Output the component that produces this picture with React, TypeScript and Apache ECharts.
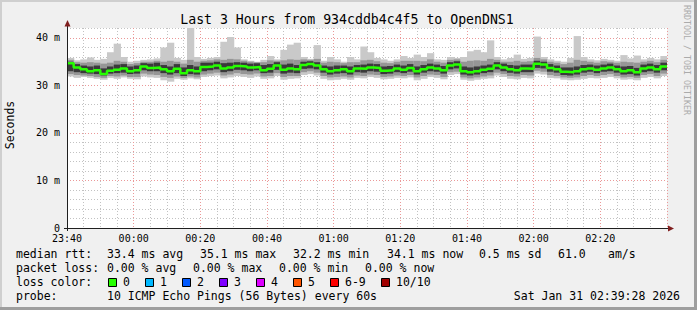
import React, { useEffect, useRef } from 'react';
import * as echarts from 'echarts';

const W = 697;
const H = 310;
const STEP_MIN = 2; // minutes per consolidated slot
const SPAN_MIN = 180;

const xTickLabels = ['23:40', '00:00', '00:20', '00:40', '01:00', '01:20', '01:40', '02:00', '02:20'];
const yTickLabels = ['0', '10 m', '20 m', '30 m', '40 m'];

// median rtt (ms) per 2-minute slot
const median = [
  34.7, 33.8, 33.4, 33.0, 33.2, 32.4, 33.1, 33.3, 33.6, 33.0,
  33.2, 34.0, 33.7, 33.8, 33.4, 33.0, 33.5, 32.6, 33.2, 33.0,
  33.9, 34.0, 34.2, 33.6, 33.8, 34.1, 34.0, 33.8, 33.9, 33.2,
  33.5, 34.2, 33.3, 33.6, 33.4, 34.3, 34.5, 34.2, 33.4, 33.0,
  33.2, 33.4, 33.0, 33.6, 33.5, 33.8, 33.7, 33.1, 33.2, 33.6,
  33.3, 33.7, 33.0, 33.4, 33.8, 33.6, 33.2, 34.2, 34.4, 33.0,
  32.8, 33.0, 33.3, 33.5, 34.2, 33.8, 33.4, 33.2, 33.6, 33.5,
  34.6, 34.4, 33.7, 33.4, 32.9, 32.8, 33.0, 33.4, 33.6, 33.3,
  33.6, 33.8, 33.4, 33.0, 33.2, 32.8, 33.6, 33.8, 33.4, 34.0,
];
const minV = [
  31.9, 31.6, 31.8, 31.6, 31.4, 31.2, 31.6, 31.4, 31.7, 31.4,
  31.3, 31.9, 31.7, 31.6, 31.1, 30.8, 31.4, 31.2, 31.5, 31.3,
  31.8, 32.0, 32.1, 31.5, 31.7, 32.0, 31.8, 31.6, 31.9, 31.4,
  31.5, 32.0, 31.2, 31.4, 31.5, 32.2, 32.4, 32.1, 31.4, 31.1,
  31.2, 31.4, 31.2, 31.6, 31.5, 31.8, 31.6, 31.3, 31.4, 31.6,
  31.5, 31.7, 31.1, 31.4, 31.8, 31.6, 31.3, 32.2, 32.4, 31.2,
  31.0, 31.2, 31.4, 31.5, 32.1, 31.8, 31.4, 31.3, 31.6, 31.5,
  32.5, 32.3, 31.6, 31.5, 31.2, 31.1, 31.2, 31.4, 31.6, 31.5,
  31.6, 31.8, 31.5, 31.2, 31.3, 31.1, 31.6, 31.8, 31.5, 32.0,
];
const lo2 = [
  32.4, 32.2, 32.1, 32.0, 31.8, 31.6, 32.0, 31.9, 32.1, 31.8,
  31.8, 32.5, 32.3, 32.2, 31.8, 31.6, 31.9, 31.6, 31.9, 31.7,
  32.3, 32.5, 32.7, 32.1, 32.3, 32.6, 32.4, 32.3, 32.5, 31.9,
  32.0, 32.6, 31.8, 32.0, 32.0, 32.8, 33.0, 32.7, 32.0, 31.7,
  31.8, 31.9, 31.7, 32.1, 32.0, 32.3, 32.2, 31.8, 31.9, 32.1,
  32.0, 32.2, 31.7, 32.0, 32.3, 32.2, 31.8, 32.8, 32.9, 31.7,
  31.5, 31.7, 31.9, 32.1, 32.7, 32.4, 32.0, 31.9, 32.2, 32.1,
  33.1, 32.9, 32.2, 32.0, 31.7, 31.6, 31.7, 32.0, 32.2, 32.0,
  32.2, 32.4, 32.0, 31.7, 31.8, 31.6, 32.2, 32.4, 32.0, 32.5,
];
const lo = [
  33.0, 32.8, 32.6, 32.5, 32.4, 32.1, 32.5, 32.6, 32.7, 32.4,
  32.5, 33.2, 33.0, 33.0, 32.6, 32.3, 32.6, 32.0, 32.4, 32.3,
  33.0, 33.2, 33.4, 32.8, 33.0, 33.3, 33.2, 33.0, 33.2, 32.6,
  32.7, 33.3, 32.5, 32.7, 32.6, 33.5, 33.6, 33.4, 32.7, 32.3,
  32.5, 32.6, 32.3, 32.8, 32.7, 33.0, 32.9, 32.4, 32.5, 32.8,
  32.6, 32.9, 32.3, 32.7, 33.0, 32.9, 32.5, 33.4, 33.6, 32.3,
  32.1, 32.3, 32.6, 32.8, 33.4, 33.0, 32.7, 32.5, 32.8, 32.8,
  33.7, 33.6, 32.9, 32.7, 32.2, 32.1, 32.3, 32.7, 32.9, 32.6,
  32.9, 33.0, 32.7, 32.3, 32.4, 32.1, 32.8, 33.0, 32.7, 33.2,
];
const hi = [
  35.0, 34.5, 34.2, 34.0, 34.2, 33.6, 34.0, 34.4, 34.5, 34.0,
  34.2, 34.7, 34.6, 34.8, 34.3, 34.0, 34.5, 33.8, 34.3, 34.0,
  34.8, 34.8, 35.0, 34.7, 34.8, 34.9, 34.8, 34.6, 34.7, 34.3,
  34.5, 34.9, 34.4, 34.6, 34.3, 35.0, 35.1, 34.9, 34.2, 34.0,
  34.2, 34.2, 34.0, 34.3, 34.4, 34.6, 34.5, 34.0, 34.1, 34.4,
  34.2, 34.5, 34.0, 34.3, 34.6, 34.4, 34.1, 34.9, 35.1, 34.0,
  33.8, 34.0, 34.2, 34.4, 34.9, 34.6, 34.3, 34.2, 34.4, 34.4,
  35.2, 35.0, 34.5, 34.2, 33.8, 33.8, 34.0, 34.3, 34.4, 34.2,
  34.4, 34.6, 34.2, 34.0, 34.1, 33.7, 34.4, 34.6, 34.3, 34.8,
];
const hi2 = [
  35.4, 34.9, 34.8, 34.9, 34.8, 34.6, 34.8, 35.2, 35.0, 34.5,
  34.7, 35.0, 35.0, 35.2, 35.0, 35.2, 35.0, 34.6, 35.4, 35.0,
  35.2, 35.3, 35.5, 35.4, 35.6, 35.5, 35.2, 35.0, 34.9, 34.9,
  35.3, 35.2, 35.3, 35.5, 35.4, 35.5, 35.4, 35.6, 34.8, 35.0,
  34.9, 34.7, 34.9, 34.9, 35.3, 35.4, 35.1, 34.8, 34.7, 35.0,
  35.2, 35.2, 35.2, 35.1, 35.5, 35.0, 34.8, 35.4, 35.5, 35.0,
  35.2, 35.3, 35.2, 35.6, 35.4, 35.0, 35.0, 35.2, 35.0, 35.1,
  35.8, 35.5, 35.0, 34.8, 34.5, 34.8, 35.4, 35.2, 35.0, 34.8,
  35.1, 35.0, 34.8, 35.0, 34.9, 34.8, 35.0, 35.2, 34.9, 35.4,
];
const maxV = [
  35.8, 35.3, 35.5, 35.9, 35.4, 35.6, 37.0, 38.8, 36.0, 35.0,
  35.2, 35.4, 35.5, 35.7, 38.0, 39.0, 35.8, 35.4, 42.2, 36.0,
  35.6, 35.8, 36.0, 39.2, 40.2, 38.0, 35.5, 35.2, 35.0, 35.4,
  36.2, 35.5, 37.5, 38.6, 39.0, 36.0, 35.6, 38.5, 35.2, 36.0,
  35.5, 35.0, 36.0, 35.5, 38.2, 37.0, 35.8, 35.5, 35.2, 35.5,
  36.2, 35.8, 36.5, 36.0, 36.8, 35.5, 35.4, 36.0, 35.8, 36.0,
  37.2, 37.5, 37.0, 39.5, 36.0, 35.5, 35.8, 36.5, 35.6, 35.8,
  40.3, 36.0, 35.5, 35.2, 35.0, 35.8, 40.4, 36.0, 35.5, 35.3,
  35.6, 35.4, 35.2, 36.4, 35.7, 36.3, 35.5, 35.8, 35.5, 36.2,
];

const lossLabels = ['0', '1', '2', '3', '4', '5', '6-9', '10/10'];
const lossColors = ['#26ff00', '#00b8ff', '#0059ff', '#7e00ff', '#dd00ff', '#ff5500', '#ff0000', '#a10000'];

const MONO = '"DejaVu Sans Mono", monospace';
const RED_GRID = '#eb9898';
const GRAY_GRID = '#c2c2c2';

export default function App() {
  const ref = useRef<HTMLDivElement>(null);

  useEffect(() => {
    if (!ref.current) return;
    const chart = echarts.init(ref.current, null, { renderer: 'svg', width: W, height: H });

    const slotStart = median.map((_, i) => i * STEP_MIN);
    const smokeData = slotStart.map((t, i) => [t, minV[i], lo2[i], lo[i], hi[i], hi2[i], maxV[i]]);
    const medianData = slotStart.map((t, i) => [t, median[i]]);
    medianData.push([SPAN_MIN, median[median.length - 1]]);

    const txt = (text: string, x: number, y: number, extra: any = {}) => ({
      type: 'text',
      x,
      y,
      z: 100,
      style: {
        text,
        font: `11.5px ${MONO}`,
        fill: '#000',
        align: 'left',
        verticalAlign: 'middle',
        ...extra,
      },
    });

    const lossBoxX = [108, 145, 182, 219, 256, 293, 330, 381];
    const lossTextX = [123, 160, 197, 234, 271, 308, 345, 396];

    const graphics: any[] = [
      // frame shading
      { type: 'rect', z: -10, shape: { x: 0, y: 0, width: W, height: 2 }, style: { fill: '#cfcfcf' } },
      { type: 'rect', z: -10, shape: { x: 0, y: 0, width: 2, height: H }, style: { fill: '#cfcfcf' } },
      { type: 'rect', z: -10, shape: { x: 0, y: H - 3, width: W, height: 3 }, style: { fill: '#9e9e9e' } },
      { type: 'rect', z: -10, shape: { x: W - 3, y: 0, width: 3, height: H }, style: { fill: '#9e9e9e' } },
      // axes lines + arrows
      { type: 'line', z: 100, shape: { x1: 67.5, y1: 231, x2: 67.5, y2: 25 }, style: { stroke: '#1f1f1f', lineWidth: 1 } },
      { type: 'line', z: 100, shape: { x1: 64, y1: 228.5, x2: 669, y2: 228.5 }, style: { stroke: '#1f1f1f', lineWidth: 1 } },
      { type: 'polygon', z: 101, shape: { points: [[64.5, 26.5], [70.5, 26.5], [67.5, 20]] }, style: { fill: '#801f1f' } },
      { type: 'polygon', z: 101, shape: { points: [[668, 225.5], [668, 231.5], [674, 228.5]] }, style: { fill: '#801f1f' } },
      // title
      {
        type: 'text', x: 347, y: 19, z: 100,
        style: { text: 'Last 3 Hours from 934cddb4c4f5 to OpenDNS1', font: `13.2px ${MONO}`, fill: '#000', align: 'center', verticalAlign: 'middle' },
      },
      // vertical unit label
      {
        type: 'text', x: 10, y: 125, rotation: Math.PI / 2, z: 100,
        style: { text: 'Seconds', font: `11.5px ${MONO}`, fill: '#000', align: 'center', verticalAlign: 'middle' },
      },
      // watermark
      {
        type: 'text', x: 687, y: 60, rotation: -Math.PI / 2, z: 100,
        style: { text: 'RRDTOOL / TOBI OETIKER', font: `8.3px ${MONO}`, fill: '#ababab', align: 'center', verticalAlign: 'middle' },
      },
      // legend rows
      txt('median rtt:', 16, 254),
      txt('33.4 ms avg', 107, 254),
      txt('35.1 ms max', 200, 254),
      txt('32.2 ms min', 293, 254),
      txt('34.1 ms now', 387, 254),
      txt('0.5 ms sd', 479, 254),
      txt('61.0', 558, 254),
      txt('am/s', 608, 254),
      txt('packet loss:', 16, 268),
      txt('0.00 % avg', 107, 268),
      txt('0.00 % max', 193, 268),
      txt('0.00 % min', 279, 268),
      txt('0.00 % now', 365, 268),
      txt('loss color:', 16, 282),
      txt('probe:', 16, 296),
      txt('10 ICMP Echo Pings (56 Bytes) every 60s', 107, 296),
      txt('Sat Jan 31 02:39:28 2026', 680, 296, { align: 'right' }),
    ];
    lossLabels.forEach((lab, i) => {
      graphics.push({
        type: 'rect', z: 100,
        shape: { x: lossBoxX[i] + 0.5, y: 278.5, width: 8, height: 8 },
        style: { fill: lossColors[i], stroke: '#000', lineWidth: 1 },
      });
      graphics.push(txt(lab, lossTextX[i], 282));
    });

    const option: any = {
      animation: false,
      backgroundColor: '#f0f0f0',
      grid: {
        left: 67, top: 28, width: 600, height: 200,
        show: true, backgroundColor: '#ffffff', borderWidth: 0,
      },
      xAxis: {
        type: 'value',
        min: 0,
        max: SPAN_MIN,
        interval: 5,
        axisLine: { show: false },
        axisTick: { show: false },
        axisLabel: {
          margin: 5,
          color: '#000',
          fontFamily: MONO,
          fontSize: 10,
          showMaxLabel: false,
          formatter: (v: number) => (v % 20 === 0 ? xTickLabels[v / 20] ?? '' : ''),
        },
        splitLine: {
          show: true,
          lineStyle: { color: [RED_GRID, GRAY_GRID, GRAY_GRID, GRAY_GRID], type: [1, 2], width: 1 },
        },
      },
      yAxis: {
        type: 'value',
        min: 0,
        max: 42.1,
        interval: 2,
        axisLine: { show: false },
        axisTick: { show: false },
        axisLabel: {
          margin: 7,
          color: '#000',
          fontFamily: MONO,
          fontSize: 10,
          formatter: (v: number) => (v % 10 === 0 ? yTickLabels[v / 10] ?? '' : ''),
        },
        splitLine: {
          show: true,
          lineStyle: { color: [RED_GRID, GRAY_GRID, GRAY_GRID, GRAY_GRID, GRAY_GRID], type: [1, 2], width: 1 },
        },
      },
      series: [
        {
          type: 'custom',
          coordinateSystem: 'cartesian2d',
          clip: true,
          z: 2,
          encode: { x: 0, y: [1, 6] },
          data: smokeData,
          renderItem: (_params: any, api: any) => {
            const t = api.value(0);
            const w = api.size([STEP_MIN, 0])[0];
            const band = (a: number, b: number, color: string) => {
              const p1 = api.coord([t, api.value(a)]);
              const p2 = api.coord([t, api.value(b)]);
              return {
                type: 'rect',
                shape: { x: p1[0], y: p2[1], width: w + 0.6, height: p1[1] - p2[1] },
                style: { fill: color },
              };
            };
            return {
              type: 'group',
              children: [band(1, 6, '#c9c9c9'), band(2, 5, '#969696'), band(3, 4, '#3a3a3a')],
            };
          },
        },
        {
          type: 'line',
          step: 'end',
          z: 5,
          symbol: 'none',
          data: medianData,
          lineStyle: { color: '#26ff00', width: 2.5 },
        },
      ],
      graphic: graphics,
    };

    chart.setOption(option);
    return () => chart.dispose();
  }, []);

  return <div ref={ref} style={{ position: 'absolute', left: 0, top: 0, width: W, height: H }} />;
}
